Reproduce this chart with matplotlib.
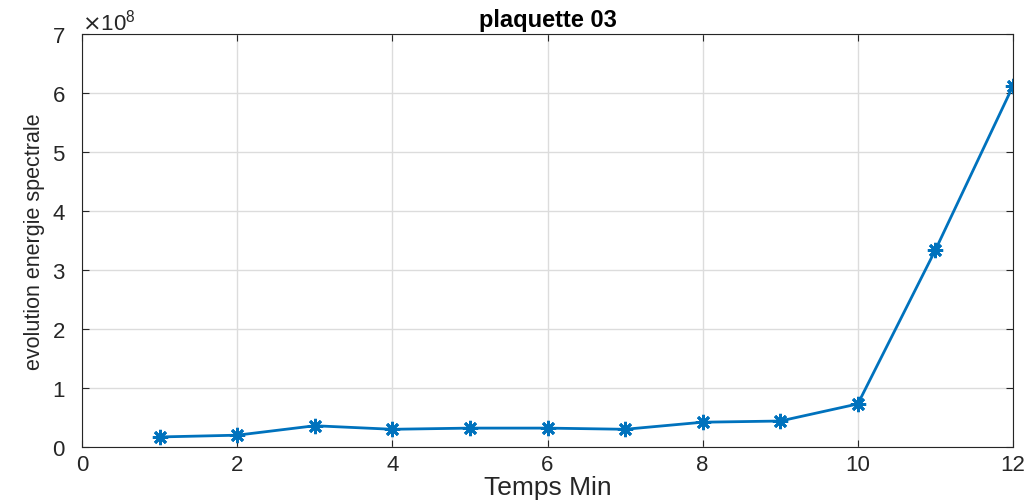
import matplotlib
matplotlib.use('Agg')
import matplotlib.pyplot as plt
from matplotlib.ticker import ScalarFormatter

temps = [1, 2, 3, 4, 5, 6, 7, 8, 9, 10, 11, 12]
energie = [0.17e8, 0.20e8, 0.36e8, 0.30e8, 0.32e8, 0.32e8,
           0.30e8, 0.42e8, 0.44e8, 0.73e8, 3.34e8, 6.12e8]

plt.rcParams['font.family'] = ['Liberation Sans', 'DejaVu Sans']

fig = plt.figure(figsize=(10.34, 5.02), dpi=100)
ax = fig.add_axes([0.0793, 0.1076, 0.9004, 0.8227])

ax.plot(temps, energie, color='#0072BD', linewidth=2,
        marker=(8, 2, 0), markersize=11, markeredgewidth=2)

ax.set_xlim(0, 12)
ax.set_ylim(0, 7e8)
ax.set_xticks(range(0, 13, 2))
ax.set_yticks([i * 1e8 for i in range(8)])

fmt = ScalarFormatter(useMathText=True)
fmt.set_powerlimits((0, 0))
ax.yaxis.set_major_formatter(fmt)
ax.yaxis.get_offset_text().set_fontsize(16)
ax.yaxis.get_offset_text().set_color('#262626')

ax.grid(True, color='#dcdcdc', linewidth=1)
ax.set_axisbelow(True)
ax.tick_params(direction='in', top=True, right=True, labelsize=16,
               colors='#262626', length=5)
ax.tick_params(axis='y', pad=12)
ax.tick_params(axis='x', pad=5)
for s in ax.spines.values():
    s.set_color('#262626')

ax.set_title('plaquette 03', fontsize=17, fontweight='bold', pad=6)
ax.set_xlabel('Temps Min', fontsize=19, labelpad=0, color='#262626')
ax.set_ylabel('evolution energie spectrale', fontsize=15.5, labelpad=5,
              color='#262626')

fig.savefig('out.png', dpi=100)
